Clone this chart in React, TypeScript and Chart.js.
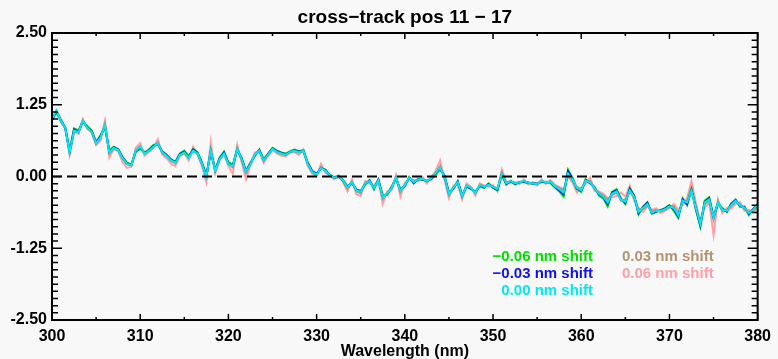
import React, { useEffect, useRef } from "react";
import { Chart, registerables } from "chart.js";

Chart.register(...registerables);

const TITLE = "cross\u2212track pos 11 \u2212 17";
const X_TITLE = "Wavelength (nm)";
const X_START = 300;
const X_STEP = 0.5;
const X_MIN = 300;
const X_MAX = 380;
const Y_MIN = -2.5;
const Y_MAX = 2.5;
const X_TICK_STEP = 10;
const Y_TICK_STEP = 1.25;

const SHIFT_LABELS = ["\u22120.06 nm shift", "\u22120.03 nm shift", "0.00 nm shift", "0.03 nm shift", "0.06 nm shift"];

const SHIFT_M006 = [
  0.98, 1.12, 0.99, 0.86, 0.45, 0.84, 0.80, 0.95, 0.88, 0.80,
  0.60, 0.72, 0.86, 0.45, 0.52, 0.48, 0.34, 0.24, 0.21, 0.43,
  0.48, 0.42, 0.47, 0.55, 0.56, 0.44, 0.38, 0.30, 0.26, 0.40,
  0.45, 0.35, 0.48, 0.42, 0.25, 0.03, 0.42, 0.12, 0.33, 0.43,
  0.25, 0.20, 0.46, 0.33, 0.10, 0.24, 0.36, 0.47, 0.30, 0.40,
  0.50, 0.45, 0.42, 0.40, 0.44, 0.47, 0.44, 0.46, 0.24, 0.10,
  0.05, 0.14, 0.12, 0.03, -0.01, 0.01, -0.06, -0.17, -0.12, -0.22,
  -0.25, -0.14, -0.06, -0.22, -0.05, -0.33, -0.32, -0.18, -0.04, -0.22,
  -0.17, -0.01, -0.12, -0.04, -0.06, -0.07, -0.05, 0.04, 0.12, 0.02,
  -0.28, -0.22, -0.08, -0.32, -0.18, -0.22, -0.26, -0.17, -0.20, -0.12,
  -0.20, -0.24, 0.03, -0.14, -0.07, -0.14, -0.09, -0.10, -0.10, -0.13,
  -0.12, -0.10, -0.09, -0.11, -0.19, -0.26, -0.35, 0.12, -0.02, -0.22,
  -0.27, -0.05, -0.12, -0.18, -0.33, -0.38, -0.52, -0.27, -0.22, -0.38,
  -0.48, -0.20, -0.33, -0.66, -0.52, -0.45, -0.65, -0.62, -0.58, -0.55,
  -0.50, -0.60, -0.72, -0.38, -0.50, -0.22, -0.58, -0.88, -0.42, -0.36,
  -0.70, -0.48, -0.55, -0.62, -0.47, -0.40, -0.53, -0.52, -0.67, -0.56,
  -0.48,
];

const SHIFT_M003 = [
  0.99, 1.14, 0.98, 0.85, 0.43, 0.82, 0.78, 0.96, 0.86, 0.79,
  0.59, 0.70, 0.88, 0.43, 0.51, 0.47, 0.33, 0.23, 0.20, 0.44,
  0.50, 0.41, 0.46, 0.53, 0.57, 0.43, 0.37, 0.29, 0.25, 0.39,
  0.43, 0.34, 0.47, 0.41, 0.23, 0.01, 0.44, 0.11, 0.31, 0.42,
  0.23, 0.19, 0.47, 0.31, 0.09, 0.23, 0.37, 0.46, 0.29, 0.39,
  0.49, 0.44, 0.41, 0.39, 0.43, 0.46, 0.43, 0.45, 0.23, 0.09,
  0.04, 0.15, 0.11, 0.02, -0.02, 0.00, -0.07, -0.18, -0.11, -0.23,
  -0.26, -0.13, -0.07, -0.21, -0.06, -0.35, -0.31, -0.19, -0.03, -0.24,
  -0.16, -0.02, -0.11, -0.05, -0.05, -0.08, -0.04, 0.05, 0.14, 0.01,
  -0.29, -0.21, -0.09, -0.33, -0.17, -0.21, -0.27, -0.16, -0.19, -0.13,
  -0.19, -0.23, 0.04, -0.13, -0.08, -0.13, -0.10, -0.09, -0.11, -0.12,
  -0.12, -0.09, -0.10, -0.10, -0.18, -0.24, -0.31, 0.09, -0.04, -0.21,
  -0.25, -0.06, -0.11, -0.19, -0.31, -0.36, -0.48, -0.28, -0.24, -0.39,
  -0.46, -0.22, -0.34, -0.64, -0.54, -0.46, -0.64, -0.61, -0.59, -0.56,
  -0.51, -0.57, -0.70, -0.40, -0.48, -0.24, -0.56, -0.85, -0.44, -0.38,
  -0.71, -0.46, -0.57, -0.61, -0.48, -0.41, -0.51, -0.54, -0.65, -0.57,
  -0.49,
];

const SHIFT_000 = [
  1.00, 1.15, 0.97, 0.85, 0.42, 0.80, 0.77, 0.97, 0.85, 0.78,
  0.58, 0.68, 0.90, 0.42, 0.50, 0.46, 0.32, 0.22, 0.20, 0.45,
  0.52, 0.40, 0.45, 0.52, 0.58, 0.42, 0.36, 0.28, 0.24, 0.38,
  0.42, 0.33, 0.45, 0.40, 0.22, 0.00, 0.45, 0.10, 0.30, 0.40,
  0.22, 0.18, 0.48, 0.30, 0.08, 0.22, 0.38, 0.45, 0.28, 0.38,
  0.48, 0.43, 0.40, 0.38, 0.43, 0.45, 0.42, 0.45, 0.22, 0.08,
  0.03, 0.15, 0.10, 0.02, -0.02, 0.00, -0.07, -0.19, -0.10, -0.24,
  -0.27, -0.12, -0.08, -0.20, -0.07, -0.36, -0.30, -0.20, -0.02, -0.25,
  -0.15, -0.02, -0.10, -0.05, -0.04, -0.08, -0.03, 0.06, 0.15, 0.00,
  -0.30, -0.20, -0.10, -0.34, -0.16, -0.20, -0.28, -0.15, -0.18, -0.14,
  -0.18, -0.22, 0.05, -0.12, -0.08, -0.12, -0.10, -0.08, -0.11, -0.12,
  -0.13, -0.08, -0.10, -0.09, -0.17, -0.22, -0.28, 0.05, -0.05, -0.20,
  -0.24, -0.07, -0.10, -0.20, -0.30, -0.35, -0.45, -0.30, -0.26, -0.40,
  -0.44, -0.24, -0.35, -0.62, -0.55, -0.48, -0.63, -0.60, -0.60, -0.57,
  -0.52, -0.55, -0.68, -0.42, -0.45, -0.25, -0.55, -0.83, -0.45, -0.40,
  -0.72, -0.45, -0.58, -0.60, -0.50, -0.42, -0.50, -0.55, -0.64, -0.58,
  -0.50,
];

const SHIFT_P003 = [
  1.01, 1.15, 0.96, 0.84, 0.41, 0.79, 0.76, 0.98, 0.84, 0.77,
  0.57, 0.66, 0.92, 0.40, 0.49, 0.45, 0.31, 0.21, 0.19, 0.46,
  0.53, 0.39, 0.44, 0.51, 0.59, 0.41, 0.35, 0.27, 0.23, 0.37,
  0.41, 0.32, 0.44, 0.39, 0.21, -0.02, 0.47, 0.09, 0.29, 0.39,
  0.21, 0.16, 0.50, 0.29, 0.06, 0.21, 0.39, 0.44, 0.27, 0.37,
  0.47, 0.42, 0.39, 0.37, 0.42, 0.44, 0.41, 0.44, 0.21, 0.07,
  0.02, 0.16, 0.09, 0.01, -0.03, -0.01, -0.08, -0.21, -0.09, -0.26,
  -0.29, -0.11, -0.09, -0.19, -0.08, -0.39, -0.29, -0.21, -0.01, -0.27,
  -0.14, -0.03, -0.09, -0.06, -0.03, -0.09, -0.02, 0.07, 0.18, -0.02,
  -0.32, -0.19, -0.11, -0.36, -0.15, -0.19, -0.30, -0.14, -0.17, -0.15,
  -0.17, -0.21, 0.07, -0.11, -0.09, -0.11, -0.11, -0.07, -0.12, -0.11,
  -0.14, -0.07, -0.11, -0.08, -0.16, -0.20, -0.24, 0.02, -0.08, -0.18,
  -0.22, -0.09, -0.08, -0.22, -0.28, -0.33, -0.40, -0.32, -0.28, -0.42,
  -0.40, -0.27, -0.37, -0.58, -0.57, -0.50, -0.61, -0.58, -0.61, -0.58,
  -0.53, -0.52, -0.64, -0.45, -0.42, -0.20, -0.52, -0.80, -0.47, -0.43,
  -0.75, -0.43, -0.60, -0.58, -0.52, -0.44, -0.48, -0.57, -0.62, -0.60,
  -0.52,
];

const SHIFT_P006 = [
  1.03, 1.12, 0.95, 0.84, 0.38, 0.78, 0.74, 1.00, 0.83, 0.76,
  0.55, 0.62, 0.97, 0.33, 0.48, 0.44, 0.25, 0.15, 0.17, 0.50,
  0.58, 0.36, 0.43, 0.50, 0.65, 0.38, 0.32, 0.22, 0.18, 0.36,
  0.40, 0.28, 0.52, 0.38, 0.18, -0.10, 0.60, 0.05, 0.28, 0.42,
  0.18, 0.05, 0.55, 0.25, -0.05, 0.20, 0.42, 0.43, 0.24, 0.36,
  0.47, 0.40, 0.36, 0.35, 0.43, 0.42, 0.38, 0.47, 0.18, 0.05,
  0.00, 0.22, 0.06, 0.03, -0.05, 0.02, -0.10, -0.26, -0.05, -0.31,
  -0.34, -0.08, -0.12, -0.16, -0.06, -0.48, -0.26, -0.24, 0.02, -0.35,
  -0.12, -0.04, -0.06, -0.08, -0.01, -0.12, 0.00, 0.10, 0.28, -0.06,
  -0.38, -0.16, -0.15, -0.40, -0.12, -0.18, -0.33, -0.12, -0.16, -0.18,
  -0.15, -0.26, 0.12, -0.09, -0.12, -0.10, -0.13, -0.05, -0.14, -0.10,
  -0.16, -0.05, -0.13, -0.06, -0.14, -0.18, -0.22, 0.00, -0.10, -0.28,
  -0.20, -0.12, -0.02, -0.25, -0.26, -0.30, -0.38, -0.36, -0.34, -0.28,
  -0.35, -0.16, -0.42, -0.55, -0.62, -0.52, -0.58, -0.55, -0.64, -0.60,
  -0.55, -0.48, -0.58, -0.50, -0.38, -0.08, -0.46, -0.78, -0.55, -0.45,
  -1.02, -0.40, -0.64, -0.55, -0.56, -0.48, -0.44, -0.60, -0.58, -0.62,
  -0.55,
];

const SERIES = [SHIFT_M006, SHIFT_M003, SHIFT_000, SHIFT_P003, SHIFT_P006];
const COLORS = ["#00e000", "#1010f0", "#00e8f0", "#b49470", "#ffa0a8"];
const DRAW_ORDER = [2, 1, 0, 3, 4];

const FONT = '"Liberation Sans", Arial, Helvetica, sans-serif';
const BG = "#f8f8f8";

const decorPlugin = {
  id: "decor",
  beforeDraw(chart: any) {
    const ctx = chart.ctx;
    ctx.save();
    ctx.fillStyle = BG;
    ctx.fillRect(0, 0, chart.width, chart.height);
    ctx.restore();
  },
  afterDatasetsDraw(chart: any) {
    const ctx = chart.ctx;
    const { left, right, top, bottom } = chart.chartArea;
    const xs = chart.scales.x;
    const ys = chart.scales.y;
    ctx.save();
    const y0 = ys.getPixelForValue(0);
    ctx.strokeStyle = "#000";
    ctx.lineWidth = 2;
    ctx.setLineDash([10, 5]);
    ctx.beginPath();
    ctx.moveTo(left, y0);
    ctx.lineTo(right, y0);
    ctx.stroke();
    ctx.setLineDash([]);
    ctx.lineWidth = 2;
    ctx.strokeRect(left, top, right - left, bottom - top);
    ctx.lineWidth = 1.5;
    for (let v = X_MIN; v <= X_MAX + 1e-9; v += X_TICK_STEP / 2) {
      const major = Math.abs(v / X_TICK_STEP - Math.round(v / X_TICK_STEP)) < 1e-6;
      const len = major ? 6 : 3;
      const px = xs.getPixelForValue(v);
      ctx.beginPath();
      ctx.moveTo(px, bottom);
      ctx.lineTo(px, bottom - len);
      ctx.moveTo(px, top);
      ctx.lineTo(px, top + len);
      ctx.stroke();
    }
    const minor = Y_TICK_STEP / 10;
    for (let i = 0; i <= Math.round((Y_MAX - Y_MIN) / minor); i++) {
      const v = Y_MIN + i * minor;
      const major = i % 10 === 0;
      const len = major ? 10 : 6;
      const py = ys.getPixelForValue(v);
      ctx.beginPath();
      ctx.moveTo(left, py);
      ctx.lineTo(left + len, py);
      ctx.moveTo(right, py);
      ctx.lineTo(right - len, py);
      ctx.stroke();
    }
    ctx.fillStyle = "#000";
    ctx.textAlign = "center";
    ctx.textBaseline = "middle";
    ctx.font = `bold 19px ${FONT}`;
    ctx.fillText(TITLE, (left + right) / 2, 18);
    ctx.font = `bold 16px ${FONT}`;
    ctx.fillText(X_TITLE, (left + right) / 2, 352);
    ctx.font = `bold 15px ${FONT}`;
    const rows = [257, 274, 291];
    for (let i = 0; i < 3; i++) {
      ctx.fillStyle = COLORS[i];
      ctx.textAlign = "right";
      ctx.fillText(SHIFT_LABELS[i], 593, rows[i]);
    }
    for (let i = 3; i < 5; i++) {
      ctx.fillStyle = COLORS[i];
      ctx.textAlign = "left";
      ctx.fillText(SHIFT_LABELS[i], 622, rows[i - 3]);
    }
    ctx.restore();
  },
};

export default function App() {
  const ref = useRef<HTMLCanvasElement | null>(null);
  useEffect(() => {
    if (!ref.current) return;
    const datasets = SERIES.map((arr, k) => ({
      label: SHIFT_LABELS[k],
      data: arr.map((y, i) => ({ x: X_START + i * X_STEP, y })),
      borderColor: COLORS[k],
      backgroundColor: COLORS[k],
      borderWidth: 2,
      pointRadius: 0,
      tension: 0,
      fill: false,
      order: DRAW_ORDER[k],
    }));
    const tickFont = { family: FONT, size: 16, weight: "bold" as const };
    const chart = new Chart(ref.current, {
      type: "line",
      data: { datasets },
      options: {
        animation: false,
        responsive: false,
        maintainAspectRatio: false,
        events: [],
        layout: { padding: { left: 0, right: 15, top: 33, bottom: 0 } },
        plugins: { legend: { display: false }, tooltip: { enabled: false }, title: { display: false } },
        scales: {
          x: {
            type: "linear",
            min: X_MIN,
            max: X_MAX,
            ticks: { stepSize: X_TICK_STEP, color: "#000", font: tickFont, padding: 7, maxRotation: 0, autoSkip: false, callback: (v: any) => String(v) },
            grid: { display: false, drawTicks: false, tickLength: 0 },
            border: { display: false },
            afterFit: (s: any) => { s.height = 39; },
          },
          y: {
            type: "linear",
            min: Y_MIN,
            max: Y_MAX,
            ticks: { stepSize: Y_TICK_STEP, color: "#000", font: tickFont, padding: 5, autoSkip: false, callback: (v: any) => Number(v).toFixed(2) },
            grid: { display: false, drawTicks: false, tickLength: 0 },
            border: { display: false },
            afterFit: (s: any) => { s.width = 52; },
          },
        },
      },
      plugins: [decorPlugin],
    });
    return () => chart.destroy();
  }, []);
  return (
    <div style={{ position: "fixed", left: 0, top: 0, width: 778, height: 359, background: BG }}>
      <canvas ref={ref} width={778} height={359} style={{ width: 778, height: 359, display: "block" }} />
    </div>
  );
}
